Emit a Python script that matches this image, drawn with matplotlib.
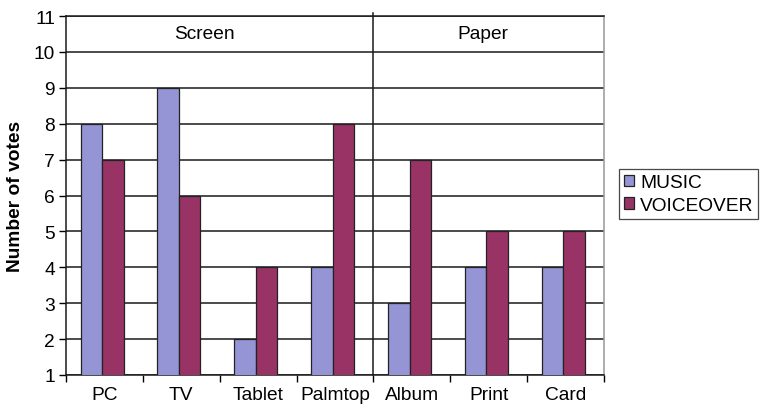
import matplotlib
matplotlib.use("Agg")
import matplotlib.pyplot as plt
import numpy as np

plt.rcParams['font.family'] = ['Liberation Sans', 'DejaVu Sans']

categories = ["PC", "TV", "Tablet", "Palmtop", "Album", "Print", "Card"]
music = [8, 9, 2, 4, 3, 4, 4]
voiceover = [7, 6, 4, 8, 7, 5, 5]
series_names = ["MUSIC", "VOICEOVER"]
group_names = ["Screen", "Paper"]
yticks = list(range(1, 12))

music_color = "#9595D5"
voice_color = "#993366"
FS = 13.8

fig = plt.figure(figsize=(7.68, 4.10), dpi=100)
ax = fig.add_axes([66 / 768, 1 - 376 / 410, (604 - 66) / 768, (376 - 17) / 410])

x = np.arange(len(categories))
w = 0.28
ax.bar(x - w / 2 - 0.03, music, width=w, color=music_color, edgecolor="#222222",
       linewidth=0.9, label=series_names[0], zorder=3)
ax.bar(x + w / 2 - 0.03, voiceover, width=w, color=voice_color, edgecolor="#222222",
       linewidth=0.9, label=series_names[1], zorder=3)

ax.set_xlim(-0.5, len(categories) - 0.5)
ax.set_ylim(1, 11)
ax.set_yticks(yticks)
ax.tick_params(axis="y", labelsize=FS, length=5, width=1, direction="out", pad=3)
ax.yaxis.grid(True, color="#1a1a1a", linewidth=1.1, zorder=0)

# category ticks sit on the boundaries, labels centered below each group
ax.set_xticks(np.arange(-0.5, len(categories), 1.0))
ax.set_xticklabels([])
ax.set_xticks(x, minor=True)
ax.set_xticklabels(categories, minor=True, fontsize=FS)
ax.tick_params(axis="x", which="major", length=5, width=1, direction="out")
ax.tick_params(axis="x", which="minor", length=0, pad=8)

for side in ["left", "bottom", "top"]:
    ax.spines[side].set_color("#1a1a1a")
    ax.spines[side].set_linewidth(1.1)
ax.spines["right"].set_color("#999999")
ax.spines["right"].set_linewidth(1.1)

# separator between the Screen and Paper groups
ax.plot([3.5, 3.5], [1, 11.08], color="#1a1a1a", linewidth=1.1, clip_on=False, zorder=4)
ax.text(1.3, 10.5, group_names[0], ha="center", va="center", fontsize=FS)
ax.text(4.92, 10.5, group_names[1], ha="center", va="center", fontsize=FS)

ax.set_ylabel("Number of votes", fontsize=FS, fontweight="bold", labelpad=7)

leg = ax.legend(loc="center left", bbox_to_anchor=(1.028, 0.504), fontsize=FS,
                frameon=True, fancybox=False, edgecolor="#1a1a1a", borderpad=0.25,
                handlelength=0.55, handleheight=0.55, handletextpad=0.3,
                labelspacing=0.3, borderaxespad=0)
leg.get_frame().set_linewidth(0.9)

fig.savefig("out.png", dpi=100)
